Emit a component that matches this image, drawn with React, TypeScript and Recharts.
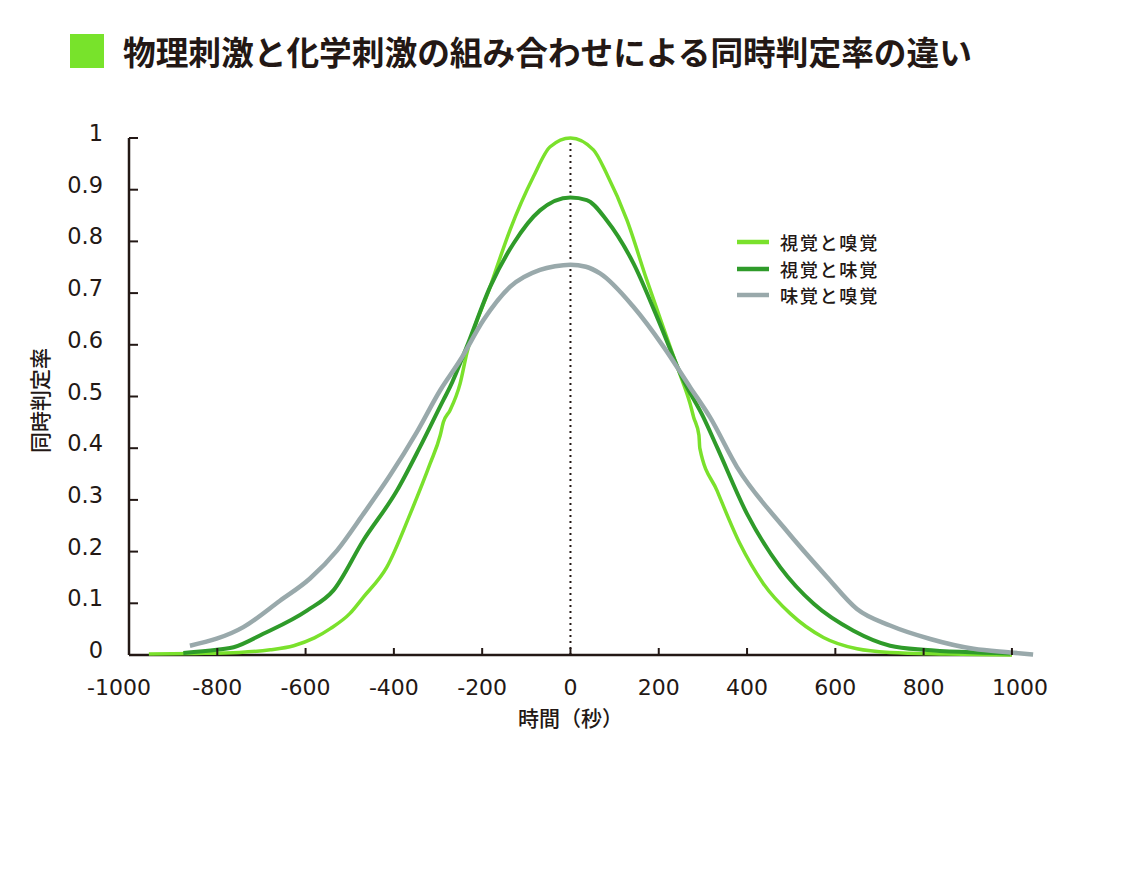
import { LineChart, Line, XAxis, YAxis, ReferenceLine, Label } from 'recharts';

// --- data (time in ms, rate 0..1) ---
const visSmellTime = [-955, -850, -750, -680, -627, -580, -544, -500, -469, -416, -363, -318, -295, -288, -273, -250, -235, -182, -137, -84, -46, 0, 52, 82, 128, 173, 218, 245, 271, 279, 291, 293, 332, 384, 437, 498, 573, 649, 724, 850, 1000];
const visSmellRate = [0.002, 0.003, 0.005, 0.01, 0.018, 0.033, 0.051, 0.08, 0.112, 0.17, 0.273, 0.37, 0.425, 0.45, 0.473, 0.525, 0.583, 0.712, 0.822, 0.925, 0.983, 1.0, 0.977, 0.931, 0.841, 0.725, 0.615, 0.55, 0.486, 0.46, 0.425, 0.4, 0.318, 0.215, 0.138, 0.08, 0.034, 0.012, 0.005, 0.002, 0.0];

const visTasteTime = [-877, -801, -763, -696, -597, -537, -469, -393, -341, -288, -273, -235, -182, -129, -69, 0, 37, 82, 143, 196, 256, 301, 332, 400, 475, 551, 641, 724, 800, 996];
const visTasteRate = [0.004, 0.01, 0.015, 0.041, 0.086, 0.125, 0.222, 0.318, 0.402, 0.493, 0.518, 0.596, 0.712, 0.796, 0.86, 0.885, 0.88, 0.841, 0.757, 0.654, 0.531, 0.46, 0.402, 0.273, 0.17, 0.099, 0.047, 0.018, 0.01, 0.003];

const tasteSmellTime = [-862, -741, -658, -590, -529, -469, -409, -348, -295, -250, -197, -137, -69, -35, 0, 35, 67, 143, 211, 271, 316, 377, 483, 581, 649, 724, 815, 913, 996, 1048];
const tasteSmellRate = [0.018, 0.054, 0.105, 0.148, 0.202, 0.273, 0.347, 0.431, 0.512, 0.57, 0.648, 0.712, 0.745, 0.752, 0.755, 0.751, 0.738, 0.673, 0.596, 0.518, 0.46, 0.364, 0.247, 0.151, 0.089, 0.057, 0.031, 0.012, 0.005, 0.001];

const xTicks = [-1000, -800, -600, -400, -200, 0, 200, 400, 600, 800, 1000];
const yTicks = [0, 0.1, 0.2, 0.3, 0.4, 0.5, 0.6, 0.7, 0.8, 0.9, 1];

const INK = '#231815';
const NUM_FONT = '"DejaVu Sans", sans-serif';
const JP_FONT = '"Noto Sans CJK JP", sans-serif';

const series = [
    { name: '視覚と嗅覚', color: '#7AE12C', width: 3.5, time: visSmellTime, rate: visSmellRate },
    { name: '視覚と味覚', color: '#2F9B2A', width: 4, time: visTasteTime, rate: visTasteRate },
    { name: '味覚と嗅覚', color: '#99A9AB', width: 4.5, time: tasteSmellTime, rate: tasteSmellRate },
];

const toPoints = (time: number[], rate: number[]) => time.map((t, i) => ({ t, v: rate[i] }));

const XTick = (props: any) => {
    const { x, y, payload } = props;
    // end labels are nudged outward in the original
    const shift = payload.value === -1000 ? -10 : payload.value === 1000 ? 8 : 0;
    return (
        <g>
            <line x1={x} x2={x} y1={y} y2={y - 7} stroke={INK} strokeWidth={2} />
            <text x={x + shift} y={y + 40} textAnchor="middle" fontFamily={NUM_FONT} fontSize={22} fill={INK}>
                {payload.value}
            </text>
        </g>
    );
};

const YTick = (props: any) => {
    const { x, y, payload } = props;
    return (
        <g>
            <line x1={x} x2={x + 9} y1={y} y2={y} stroke={INK} strokeWidth={2} />
            <text x={x - 26} y={y + 3} textAnchor="end" fontFamily={NUM_FONT} fontSize={22.5} fill={INK}>
                {payload.value}
            </text>
        </g>
    );
};

export default function App() {
    return (
        <div style={{ position: 'absolute', left: 0, top: 0, width: 1128, height: 880, background: '#fff' }}>
            <div style={{ position: 'absolute', left: 70, top: 34, width: 34, height: 34, background: '#78E32B' }} />
            <div
                style={{
                    position: 'absolute',
                    left: 123,
                    top: 28,
                    fontFamily: JP_FONT,
                    fontWeight: 700,
                    fontSize: 32.7,
                    lineHeight: '46px',
                    color: INK,
                    whiteSpace: 'nowrap',
                }}
            >
                物理刺激と化学刺激の組み合わせによる同時判定率の違い
            </div>
            <LineChart width={1128} height={880} margin={{ top: 138, right: 94, left: 29, bottom: 165 }}>
                <XAxis
                    dataKey="t"
                    type="number"
                    domain={[-1000, 1050]}
                    ticks={xTicks}
                    interval={0}
                    axisLine={false}
                    tickLine={false}
                    tickSize={0}
                    tickMargin={0}
                    tick={<XTick />}
                    height={60}
                >
                    <Label
                        content={(p: any) => (
                            <text
                                x={p.viewBox.x + (p.viewBox.width * 1000) / 2050}
                                y={p.viewBox.y + 71}
                                textAnchor="middle"
                                fontFamily={JP_FONT}
                                fontSize={21}
                                fontWeight={500}
                                fill={INK}
                            >
                                時間（秒）
                            </text>
                        )}
                    />
                </XAxis>
                <YAxis
                    type="number"
                    domain={[0, 1]}
                    ticks={yTicks}
                    interval={0}
                    axisLine={{ stroke: INK, strokeWidth: 2.5 }}
                    tickLine={false}
                    tickSize={0}
                    tickMargin={0}
                    tick={<YTick />}
                    width={100}
                >
                    <Label
                        content={(p: any) => {
                            const cx = p.viewBox.x + 10;
                            const cy = p.viewBox.y + p.viewBox.height / 2 + 4;
                            return (
                                <text
                                    x={cx}
                                    y={cy}
                                    transform={`rotate(-90 ${cx} ${cy})`}
                                    textAnchor="middle"
                                    dominantBaseline="central"
                                    fontFamily={JP_FONT}
                                    fontSize={21}
                                    fontWeight={500}
                                    fill={INK}
                                >
                                    同時判定率
                                </text>
                            );
                        }}
                    />
                </YAxis>
                <ReferenceLine
                    segment={[{ x: -1000, y: 0 }, { x: 1000, y: 0 }]}
                    stroke={INK}
                    strokeWidth={2.5}
                />
                <ReferenceLine x={0} stroke={INK} strokeWidth={2} strokeDasharray="2 4" />
                {series.map((s) => (
                    <Line
                        key={s.name}
                        name={s.name}
                        data={toPoints(s.time, s.rate)}
                        dataKey="v"
                        type="monotone"
                        stroke={s.color}
                        strokeWidth={s.width}
                        dot={false}
                        activeDot={false}
                        isAnimationActive={false}
                    />
                ))}
            </LineChart>
            <div
                style={{
                    position: 'absolute',
                    left: 736,
                    top: 229,
                    fontFamily: JP_FONT,
                    fontSize: 18.2,
                    fontWeight: 500,
                    letterSpacing: 1.6,
                    color: INK,
                }}
            >
                {series.map((s) => (
                    <div key={s.name} style={{ display: 'flex', alignItems: 'center', height: 26.5 }}>
                        <svg width={44} height={26} style={{ display: 'block' }}>
                            <line x1={1} x2={33} y1={13} y2={13} stroke={s.color} strokeWidth={4.5} />
                        </svg>
                        <span>{s.name}</span>
                    </div>
                ))}
            </div>
        </div>
    );
}
